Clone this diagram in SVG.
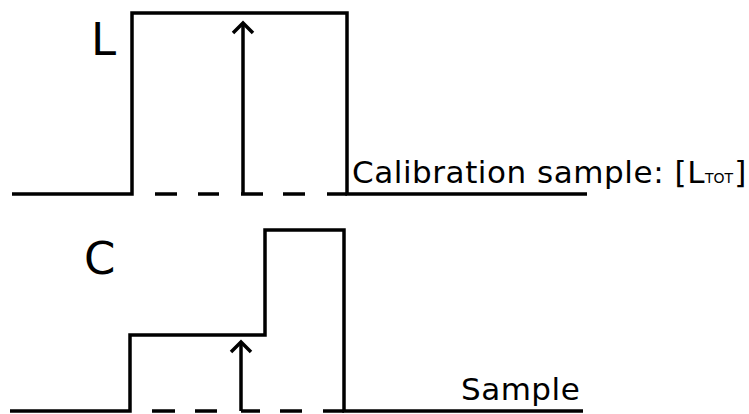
<svg xmlns="http://www.w3.org/2000/svg" width="749" height="414" viewBox="0 0 749 414">
  <style>
    .trace { fill: none; stroke: #000; stroke-width: 3.5; stroke-linejoin: miter; stroke-linecap: butt; }
    .dash { fill: none; stroke: #000; stroke-width: 3.5; stroke-linecap: butt; }
    .big { font-family: "DejaVu Sans", Verdana, sans-serif; font-size: 45px; fill: #000; }
    .lbl { font-family: "DejaVu Sans", Verdana, sans-serif; font-size: 31px; fill: #000; }
    .sub { font-size: 14px; letter-spacing: 0; }
  </style>
  <defs>
    <marker id="chevron" markerUnits="userSpaceOnUse" orient="auto" refX="0" refY="0" markerWidth="30" markerHeight="30" overflow="visible">
      <path d="M-10,-10 L0,0 L-10,10" fill="none" stroke="#000" stroke-width="3.5" stroke-linejoin="miter"/>
    </marker>
  </defs>
  <rect width="749" height="414" fill="#fff"/>

  <!-- upper panel: calibration sample -->
  <g id="calibration">
    <path class="trace" d="M12,194 H132 V13 H347 V194 H587"/>
    <path class="dash" d="M155,194 H177 M198,194 H219 M241,194 H263 M283,194 H305 M327,194 H347"/>
    <text class="big" x="91" y="55">L</text>
    <text class="lbl" x="352" y="183" letter-spacing="0.55">Calibration sample: [L<tspan class="sub">TOT</tspan><tspan dx="1">]</tspan></text>
  </g>

  <!-- lower panel: sample -->
  <g id="sample">
    <path class="trace" d="M10,411 H130 V335 H265 V230 H344 V411 H583"/>
    <path class="dash" d="M152,411 H175 M195,411 H217 M241,411 H260 M280,411 H302 M323,411 H344"/>
    <text class="big" x="84" y="274">C</text>
    <text class="lbl" x="461" y="400" letter-spacing="0.5">Sample</text>
  </g>

  <!-- arrows -->
  <g id="connectors">
    <path class="dash" d="M243,194 V23" marker-end="url(#chevron)"/>
    <path class="dash" d="M241,411 V342" marker-end="url(#chevron)"/>
  </g>
</svg>
